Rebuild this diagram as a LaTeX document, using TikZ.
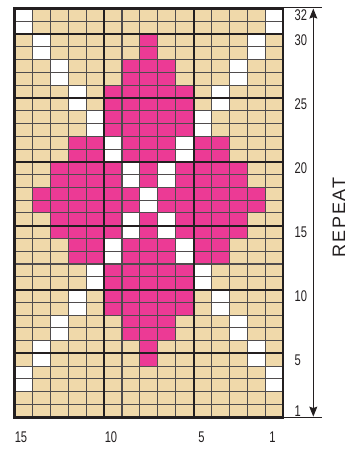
\documentclass[tikz,border=0pt]{standalone}
\usepackage{fontspec}
\setmainfont{Liberation Sans}
\newfontfamily\numfont[FakeStretch=0.72]{Liberation Sans}
\newfontfamily\repfont[LetterSpace=10]{Liberation Sans}
\usetikzlibrary{arrows.meta}
\definecolor{chartTan}{HTML}{F0D9AA}
\definecolor{chartPink}{HTML}{EC3A95}
\definecolor{chartInk}{HTML}{231F20}
\begin{document}
\begin{tikzpicture}[x=1pt,y=-1pt,
  thingrid/.style={line width=1.1pt, draw=chartInk!80},
  thickgrid/.style={line width=2pt, draw=chartInk},
  border/.style={line width=2.7pt, draw=chartInk},
  numlab/.style={font=\numfont\fontsize{15.5}{18}\selectfont, text=chartInk, inner sep=0pt},
  replab/.style={font=\repfont\fontsize{18}{21}\selectfont, text=chartInk, inner sep=0pt},
  guide/.style={line width=0.9pt, draw=chartInk},
  tipped/.style={guide, {Stealth[length=10pt,width=8pt,inset=1.5pt]}-{Stealth[length=10pt,width=8pt,inset=1.5pt]}}
]
\useasboundingbox (0,0) rectangle (355,450);
\def\gL{14.7}
\def\gT{8.6}
\def\gW{17.89}
\def\gH{12.769}
% background cells
\fill[chartTan] (\gL,\gT) rectangle ({\gL+15*\gW},{\gT+32*\gH});
% pattern: row pair k (rows 2k-1, 2k from top), pink up to distance pk from centre, white at distance wk
\foreach \k/\pk/\wk in {1/-1/7,2/0/6,3/1/5,4/2/4,5/2/3,6/4/2,7/5/1,8/6/0,9/5/1,10/4/2,11/2/3,12/2/4,13/1/5,14/0/6,15/-1/7,16/-1/-1}{
  \foreach \i in {1,...,15}{
    \pgfmathtruncatemacro\dd{abs(\i-8)}
    \ifnum\dd=\wk
      \fill[white] ({\gL+(\i-1)*\gW},{\gT+(2*\k-2)*\gH}) rectangle ({\gL+\i*\gW},{\gT+2*\k*\gH});
    \else
      \ifnum\dd>\pk\else
        \fill[chartPink] ({\gL+(\i-1)*\gW},{\gT+(2*\k-2)*\gH}) rectangle ({\gL+\i*\gW},{\gT+2*\k*\gH});
      \fi
    \fi
  }
}
% thin grid
\foreach \i in {1,...,14}
  \draw[thingrid] ({\gL+\i*\gW},\gT) -- ({\gL+\i*\gW},{\gT+32*\gH});
\foreach \j in {1,...,31}
  \draw[thingrid] (\gL,{\gT+\j*\gH}) -- ({\gL+15*\gW},{\gT+\j*\gH});
% thick grid
\foreach \i in {5,10}
  \draw[thickgrid] ({\gL+\i*\gW},\gT) -- ({\gL+\i*\gW},{\gT+32*\gH});
\foreach \j in {2,7,12,17,22,27}
  \draw[thickgrid] (\gL,{\gT+\j*\gH}) -- ({\gL+15*\gW},{\gT+\j*\gH});
\draw[border] (\gL,\gT) rectangle ({\gL+15*\gW},{\gT+32*\gH});
% row labels
\foreach \r in {32,30,25,20,15,10,5,1}
  \node[numlab, anchor=west] (row\r) at (294.5,{\gT+(32.5-\r)*\gH}) {\r};
% column labels
\foreach \c/\x in {15/21,10/111,5/201.5,1/272.5}
  \node[numlab] (col\c) at (\x,437) {\c};
% repeat guide
\coordinate (topL) at ({\gL+15*\gW},7.6);
\coordinate (topR) at (321.7,7.6);
\coordinate (botL) at ({\gL+15*\gW},417.4);
\coordinate (botR) at (321.7,417.4);
\coordinate (arrTop) at (313.3,8.6);
\coordinate (arrBot) at (313.3,416.6);
\draw[guide] (topL) -- (topR);
\draw[guide] (botL) -- (botR);
\draw[tipped] (arrTop) -- (arrBot);
\node[replab, rotate=90] (rep) at (339,217.5) {REPEAT};
\end{tikzpicture}
\end{document}
